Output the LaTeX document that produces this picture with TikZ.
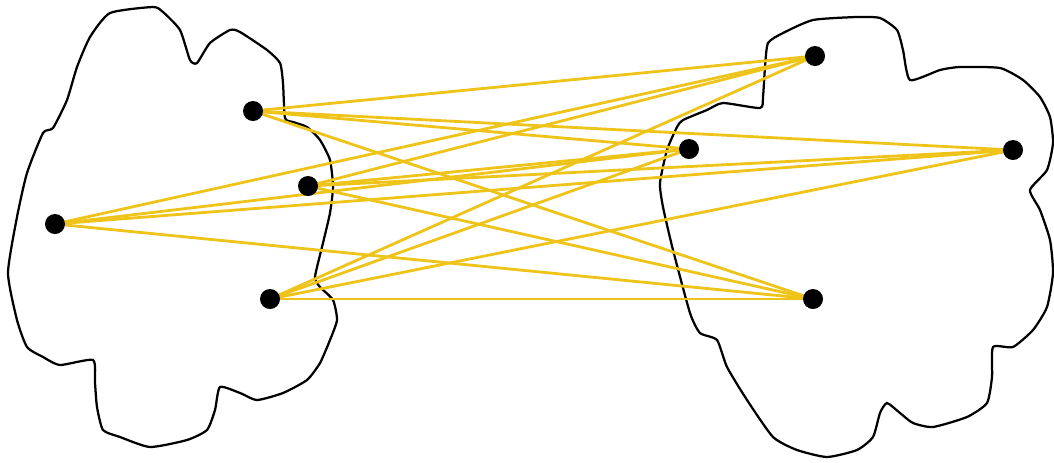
\documentclass[tikz,border=0pt]{standalone}
\usepackage{tikz}
\definecolor{Gold}{HTML}{EEC31A}

\begin{document}
\begin{tikzpicture}[x=0.025cm,y=-0.025cm,
        blob/.style={draw=black,line width=1.6pt,smooth cycle,tension=0.35},
        dot/.style={circle,inner sep=0pt,minimum size=0.5cm},
        link/.style={Gold,line width=2pt}
      ]
        \useasboundingbox (0,0) rectangle (1054,462);
        % left region
        \draw[blob] plot coordinates {(110,13) (153,7) (163,12) (180,30) (190,60) (197,63)
          (210,43) (230,30) (240,32) (267,50) (280,63) (283,83) (285,118) (293,122)
          (307,127) (320,140) (330,160) (333,187) (330,213) (323,243) (315,277) (320,287)
          (333,300) (337,320) (330,340) (320,363) (307,380) (283,393) (257,400) (240,393)
          (220,387) (215,410) (207,430) (187,440) (150,447) (120,437) (103,430) (97,407)
          (95,383) (93,360) (60,365) (43,357) (27,347) (17,320) (8,273) (17,217)
          (27,173) (43,133) (53,128) (67,100) (77,67) (90,37)};
        % right region
        \draw[blob] plot coordinates {(813,20) (857,17) (880,18) (897,30) (903,50) (910,80)
          (940,70) (960,67) (1000,68) (1023,80) (1040,97) (1050,117) (1053,143) (1047,170)
          (1030,190) (1040,210) (1050,240) (1053,273) (1047,307) (1033,330) (1013,347)
          (993,347) (992,377) (987,403) (967,417) (933,427) (913,423) (900,413) (887,403)
          (880,413) (873,437) (857,450) (827,457) (797,450) (773,437) (747,400) (727,367)
          (717,340) (700,333) (690,313) (673,250) (663,207) (660,183) (667,150) (677,127)
          (683,120) (707,110) (723,103) (760,108) (763,97) (765,67) (768,43) (783,33)};
        \node[dot] (a1) at (253,111) {};
        \node[dot] (a2) at (308,186) {};
        \node[dot] (a3) at (55,224) {};
        \node[dot] (a4) at (270,299) {};
        \node[dot] (b1) at (815,56) {};
        \node[dot] (b2) at (689,149) {};
        \node[dot] (b3) at (1013,150) {};
        \node[dot] (b4) at (813,299) {};
        \draw[link] (a1.center)--(b1.center); \draw[link] (a1.center)--(b2.center);
        \draw[link] (a1.center)--(b3.center); \draw[link] (a1.center)--(b4.center);
        \draw[link] (a2.center)--(b1.center); \draw[link] (a2.center)--(b2.center);
        \draw[link] (a2.center)--(b3.center); \draw[link] (a2.center)--(b4.center);
        \draw[link] (a3.center)--(b1.center); \draw[link] (a3.center)--(b2.center);
        \draw[link] (a3.center)--(b3.center); \draw[link] (a3.center)--(b4.center);
        \draw[link] (a4.center)--(b1.center); \draw[link] (a4.center)--(b2.center);
        \draw[link] (a4.center)--(b3.center); \draw[link] (a4.center)--(b4.center);
        % dots over the lines
        \foreach \n in {a1,a2,a3,a4,b1,b2,b3,b4} \fill (\n) circle (0.25cm);
      \end{tikzpicture}
\end{document}
